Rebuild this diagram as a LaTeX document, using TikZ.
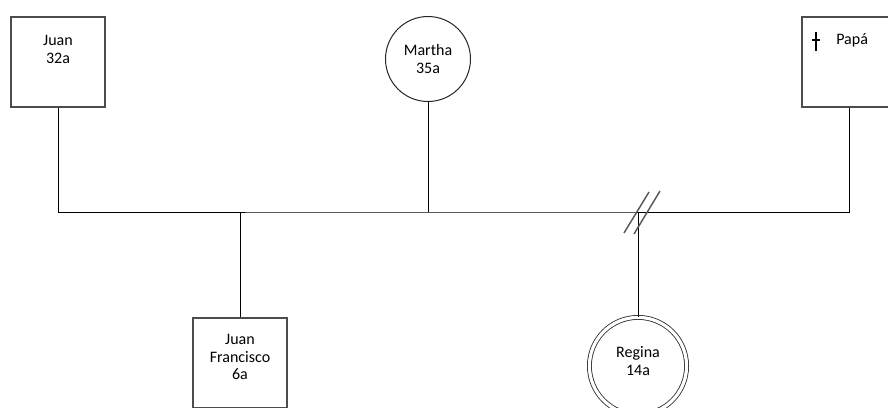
\documentclass[tikz,border=0pt]{standalone}
\usepackage{fontspec}
\setmainfont{Carlito}
\usetikzlibrary{positioning,calc}

\begin{document}
\begin{tikzpicture}[
    x=0.75pt, y=-0.75pt,
    font=\fontsize{12}{13.1}\selectfont,
    male/.style={rectangle, draw=black!70, line width=0.9pt, minimum width=70.5pt, minimum height=67.5pt, inner sep=0pt},
    female/.style={circle, draw=black!85, line width=0.75pt, minimum size=63.75pt, inner sep=0pt, align=center},
    patient/.style={circle, draw=black!85, double, line width=0.6pt, double distance=2.4pt, minimum size=72.9pt, inner sep=0pt},
    name text/.style={align=center, inner sep=0pt},
    link/.style={draw=black, line width=0.7pt},
    cut/.style={draw=black!65, line width=1.1pt}
]
\useasboundingbox (0,0) rectangle (888,407);
\clip (0,0) rectangle (888,407);

% Parents
\node (juan) [male] at (58,62) {};
\node (juantxt) [name text, below=14pt of juan.north] {Juan\\32a};
\node (martha) [female] at (428,59) {Martha\\35a};
\node (papa) [male] at (849,62) {};
\node (papatxt) [name text, anchor=base west] at (836,44) {Papá};

% Deceased mark
\draw[line width=1.2pt] (816,32) -- (816,51);
\draw[line width=0.8pt] (812,40) -- (820,40);

% Children
\node (jf) [male] at (240,363) {};
\node (jftxt) [name text, below=12.5pt of jf.north] {Juan\\Francisco\\6a};
\node (regina) [patient] at (638,366) {};
\node (reginatxt) [name text] at ($(regina)+(0,-5)$) {Regina\\14a};

% Connections
\coordinate (bar) at (martha |- 0,212);
\coordinate (jfdrop) at (jf.north |- bar);
\coordinate (regdrop) at (regina.north |- bar);
\draw[link] (juan.south) |- (bar) -| (papa.south);
\draw[link] (martha.south) -- (bar);
\draw[link] (jfdrop) -- (jf.north);
\draw[link] (regdrop) -- (regina.north);

% Break in the line
\coordinate (brk) at ($(regdrop)+(3.5,0)$);
\draw[cut] ($(brk)+(-17.5,21)$) -- ($(brk)+(7.5,-20)$);
\draw[cut] ($(brk)+(-7.5,22)$) -- ($(brk)+(18.5,-21)$);

\end{tikzpicture}
\end{document}
